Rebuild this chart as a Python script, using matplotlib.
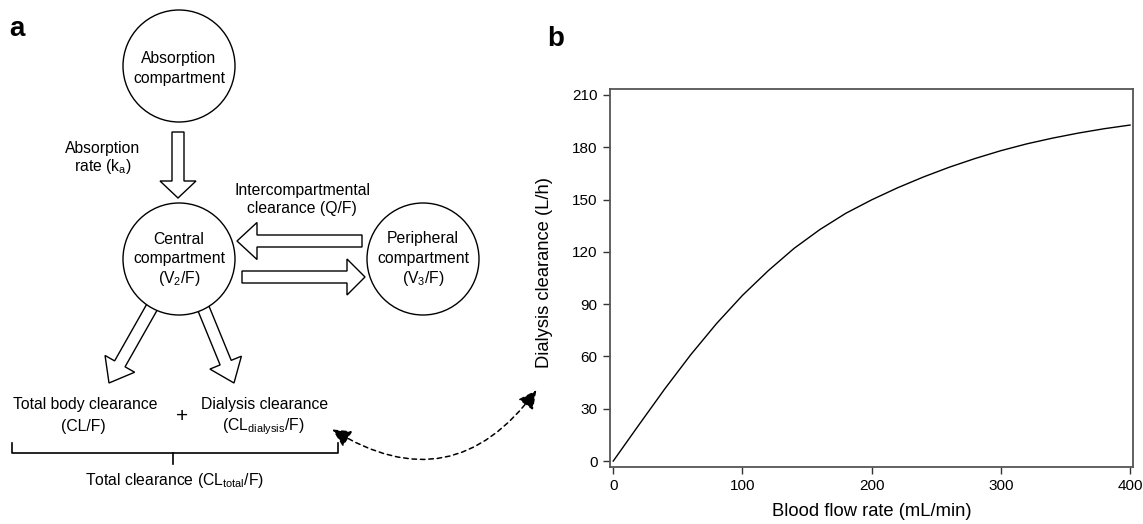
import matplotlib
matplotlib.use("Agg")
import matplotlib.pyplot as plt
from matplotlib.patches import Circle, FancyArrow, FancyArrowPatch

plt.rcParams['font.family'] = ['Liberation Sans', 'DejaVu Sans']
plt.rcParams['mathtext.fontset'] = 'custom'
plt.rcParams['mathtext.rm'] = 'Liberation Sans'
plt.rcParams['mathtext.it'] = 'Liberation Sans:italic'
plt.rcParams['mathtext.bf'] = 'Liberation Sans:bold'

# ---- data for panel b ----
blood_flow = [0, 20, 40, 60, 80, 100, 120, 140, 160, 180, 200, 220, 240, 260, 280,
              300, 320, 340, 360, 380, 400]
dialysis_cl = [0, 20.9, 41.5, 61, 78.9, 95, 109.2, 122, 132.8, 142.1, 149.8, 156.7,
               162.9, 168.5, 173.5, 178, 181.9, 185.2, 188.1, 190.6, 192.7]
x_ticks = [0, 100, 200, 300, 400]
y_ticks = [0, 30, 60, 90, 120, 150, 180, 210]

W, H = 1143, 524
fig = plt.figure(figsize=(W / 100, H / 100), dpi=100)

# ---- panel a: diagram in pixel coordinates ----
ax0 = fig.add_axes([0, 0, 1, 1])
ax0.set_xlim(0, W)
ax0.set_ylim(H, 0)
ax0.axis('off')

fs = 11.3
lw = 1.0

def txt(x, y, s, size=fs):
    ax0.text(x, y, s, ha='center', va='center', fontsize=size, zorder=4)

def comp(cx, cy, lines, ys):
    ax0.add_patch(Circle((cx, cy), 56, fc='white', ec='black', lw=lw, zorder=3))
    for s, y in zip(lines, ys):
        txt(cx, y, s)

def block(x0, y0, x1, y1, w=12, hw=38, hl=18):
    ax0.add_patch(FancyArrow(x0, y0, x1 - x0, y1 - y0, width=w, head_width=hw,
                             head_length=hl, length_includes_head=True,
                             fc='white', ec='black', lw=lw, zorder=2))

comp(179, 66, ["Absorption", "compartment"], [58, 78])
comp(179, 259, ["Central", "compartment", "(V$_2$/F)"], [239, 259, 278])
comp(423, 259, ["Peripheral", "compartment", "(V$_3$/F)"], [239, 259, 278])

block(178, 132, 178, 198, w=12, hw=36, hl=17)
block(362, 241, 237, 241, w=12, hw=37, hl=20)
block(242, 277, 365, 277, w=12, hw=36, hl=18)
block(156, 300, 109, 383, w=12, hw=34, hl=22)
block(200, 300, 234, 383, w=12, hw=34, hl=22)

txt(103, 148, "Absorption")
txt(103, 167, "rate (k$_\\mathregular{a}$)")
txt(302, 191, "Intercompartmental")
txt(302, 209, "clearance (Q/F)")
txt(85, 405, "Total body clearance")
txt(83, 427, "(CL/F)")
txt(182, 417, "+", size=15)
txt(265, 405, "Dialysis clearance")
txt(263, 427, "(CL$_\\mathregular{dialysis}$/F)")
txt(175, 481, "Total clearance (CL$_\\mathregular{total}$/F)")

# brace
bx0, bx1, by0, by1, bmid = 12, 338, 443, 453, 173
ax0.plot([bx0, bx0, bx1, bx1], [by0, by1, by1, by0], color='black', lw=1.2)
ax0.plot([bmid, bmid], [by1, by1 + 11], color='black', lw=1.2)

# dashed curved arrow
arr = FancyArrowPatch((330, 428), (538, 388), connectionstyle="arc3,rad=0.47",
                      arrowstyle='<|-|>,head_length=0.8,head_width=0.4',
                      mutation_scale=14, linestyle=(0, (3, 2.5)), lw=1.1,
                      color='black', zorder=5)
ax0.add_patch(arr)

fig.text(9 / W, 1 - 29 / H, "a", fontsize=20, fontweight='bold', ha='left', va='center')
fig.text(547 / W, 1 - 39 / H, "b", fontsize=20, fontweight='bold', ha='left', va='center')

# ---- panel b: line chart ----
ax = fig.add_axes([610 / W, 1 - 467 / H, (1133.3 - 610) / W, (467 - 89.3) / H])
ax.plot(blood_flow, dialysis_cl, color='black', lw=1.0)
ax.set_xlim(-2.5, 402.5)
ax.set_ylim(-3.4, 213.2)
ax.set_xticks(x_ticks)
ax.set_yticks(y_ticks)
for s in ax.spines.values():
    s.set_color('#555555')
    s.set_linewidth(1.3)
ax.tick_params(direction='out', length=5, width=1.0, color='#333333',
               labelsize=11, pad=4)
ax.set_xlabel("Blood flow rate (mL/min)", fontsize=13.2)
ax.xaxis.set_label_coords(0.5, -0.095)
ax.set_ylabel("Dialysis clearance (L/h)", fontsize=13.2)
ax.yaxis.set_label_coords(-0.109, 0.515)

fig.savefig("out.png", dpi=100)
